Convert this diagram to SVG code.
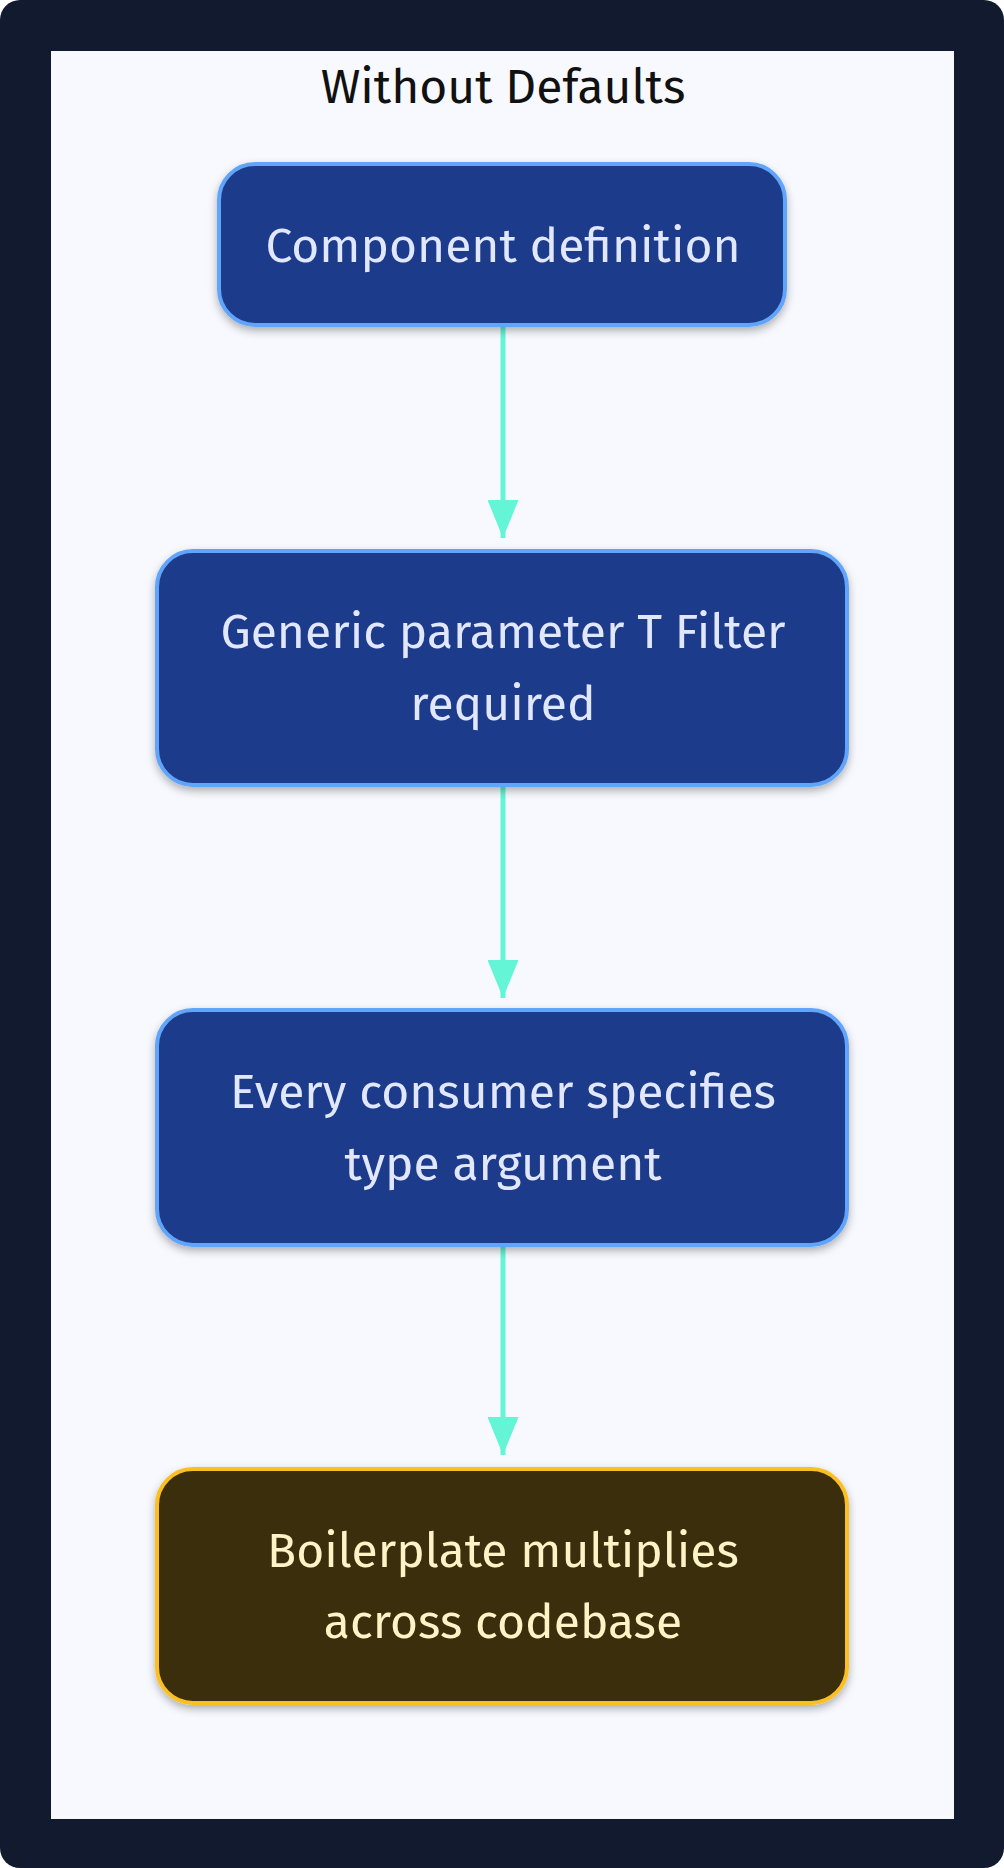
<svg xmlns="http://www.w3.org/2000/svg" width="1004" height="1868" viewBox="0 0 1004 1868">
<defs>
<style>
.n{stroke-width:4}
.b{fill:#1e3a8a;stroke:#60a5fa}
.y{fill:#3a2e0b;stroke:#fbbf24}
.t{font-family:"Fira Sans","Noto Sans","Open Sans",sans-serif;font-size:48px;text-anchor:middle}
.tb{fill:#e0e7ff}
.ty{fill:#fef3c7}
.e{stroke:#64f5d6;stroke-width:5;fill:none}
</style>
<marker id="a" viewBox="0 0 38 31" refX="38" refY="15.5" markerWidth="38" markerHeight="31" markerUnits="userSpaceOnUse" orient="auto"><path d="M0,0L38,15.5L0,31z" fill="#64f5d6"/></marker>
<filter id="s" x="-10%" y="-10%" width="120%" height="130%"><feDropShadow dx="0" dy="4" stdDeviation="4" flood-color="#000" flood-opacity="0.3"/></filter>
</defs>
<rect width="1004" height="1868" rx="20" fill="#111a2e"/>
<rect x="51" y="51" width="903" height="1768" fill="#f8f9fe"/>
<text x="503" y="103" font-family="'Fira Sans','Noto Sans',sans-serif" font-size="48" text-anchor="middle" fill="#111">Without Defaults</text>
<g id="connectors">
<line class="e" x1="503" y1="327" x2="503" y2="538" marker-end="url(#a)"/>
<line class="e" x1="503" y1="787" x2="503" y2="998" marker-end="url(#a)"/>
<line class="e" x1="503" y1="1247" x2="503" y2="1455" marker-end="url(#a)"/>
</g>
<g id="n1" filter="url(#s)"><rect class="n b" x="219" y="164" width="566" height="161" rx="36"/><text class="t tb" x="503" y="262">Component definition</text></g>
<g id="n2" filter="url(#s)"><rect class="n b" x="157" y="551" width="690" height="234" rx="36"/><text class="t tb" x="503" y="648">Generic parameter T Filter</text><text class="t tb" x="503" y="720">required</text></g>
<g id="n3" filter="url(#s)"><rect class="n b" x="157" y="1010" width="690" height="235" rx="36"/><text class="t tb" x="503" y="1108">Every consumer specifies</text><text class="t tb" x="503" y="1180">type argument</text></g>
<g id="n4" filter="url(#s)"><rect class="n y" x="157" y="1469" width="690" height="234" rx="36"/><text class="t ty" x="503" y="1567">Boilerplate multiplies</text><text class="t ty" x="503" y="1638">across codebase</text></g>
</svg>
